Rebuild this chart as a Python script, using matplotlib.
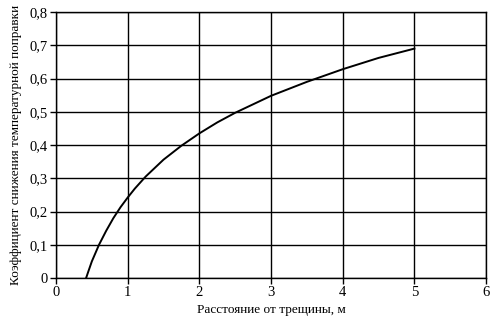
import matplotlib.pyplot as plt
from matplotlib.ticker import FuncFormatter

plt.rcParams['font.family'] = ['Liberation Serif', 'DejaVu Serif']

# значения
rasst = [0.42, 0.45, 0.5, 0.55, 0.6, 0.7, 0.8, 0.9, 1.0, 1.1, 1.25, 1.5, 1.75,
         2.0, 2.25, 2.5, 3.0, 3.5, 4.0, 4.5, 5.0]
koef = [0.0, 0.019, 0.05, 0.075, 0.10, 0.142, 0.18, 0.213, 0.242, 0.269, 0.305,
        0.356, 0.398, 0.435, 0.468, 0.497, 0.548, 0.59, 0.628, 0.662, 0.69]

xticks = [0, 1, 2, 3, 4, 5, 6]
yticks = [0, 0.1, 0.2, 0.3, 0.4, 0.5, 0.6, 0.7, 0.8]

fig = plt.figure(figsize=(4.93, 3.25), dpi=100)
ax = fig.add_axes([0.1136, 0.1446, 0.8724, 0.8184])

ax.plot(rasst, koef, color='black', lw=1.4)

ax.set_xlim(0, 6)
ax.set_ylim(0, 0.8)
ax.set_xticks(xticks)
ax.set_yticks(yticks)
ax.yaxis.set_major_formatter(FuncFormatter(lambda v, p: ('%g' % round(v, 1)).replace('.', ',')))
ax.grid(True, color='black', lw=1.0)
ax.set_axisbelow(True)
for s in ax.spines.values():
    s.set_color('black')
    s.set_linewidth(1.0)
ax.tick_params(axis='both', direction='out', length=4, width=1, labelsize=10.5, colors='black', pad=2)

ax.set_xlabel("Расстояние от трещины, м", fontsize=9.5, labelpad=3)
ax.set_ylabel("Коэффициент снижения температурной поправки", fontsize=9.5, labelpad=5)

fig.savefig('out.png', dpi=100)
